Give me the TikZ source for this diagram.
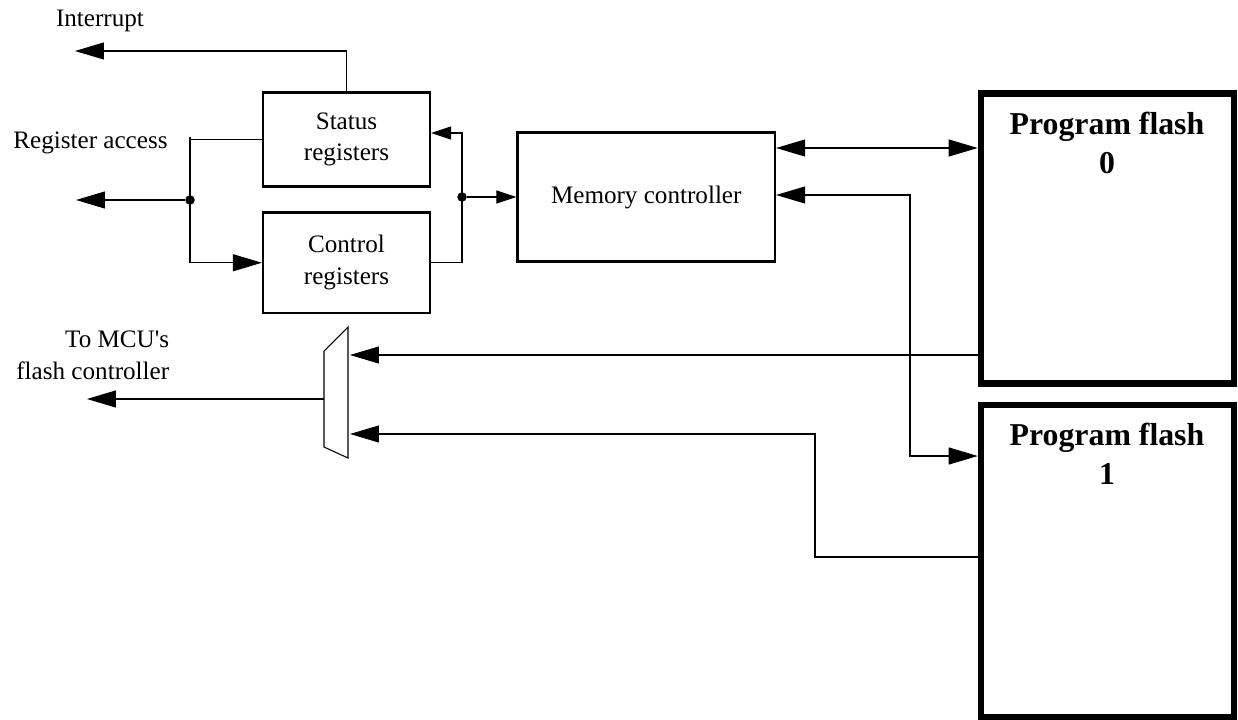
\documentclass[tikz,border=0pt]{standalone}
\usepackage{fontspec}
\setmainfont{Liberation Serif}[Ligatures=TeXOff]
\usetikzlibrary{arrows.meta,positioning}

\begin{document}
\begin{tikzpicture}[x=0.02cm,y=-0.02cm,
    every node/.style={align=center,font=\fontsize{14.3}{18}\selectfont},
    regbox/.style={draw,line width=1.3pt,inner sep=0pt},
    flashbox/.style={draw,line width=3.8pt,minimum width=5.06cm,inner sep=0pt},
    flashlbl/.style={anchor=north,inner sep=0pt,font=\fontsize{18.1}{22}\selectfont\bfseries},
    lbl/.style={inner sep=0pt},
    wire/.style={line width=0.6pt},
    bigarr/.style={wire,-{Triangle[length=5.8mm,width=3.4mm]}},
    smallarr/.style={wire,-{Triangle[length=4mm,width=2.6mm]}},
    dblarr/.style={wire,{Triangle[length=5.8mm,width=3.4mm]}-{Triangle[length=5.8mm,width=3.4mm]}},
    junction/.style={circle,fill,inner sep=0pt,minimum size=1.9mm}]
  \useasboundingbox (0,0) rectangle (1238,720);

  % register blocks
  \node[regbox,minimum width=3.34cm,minimum height=1.88cm] (status) at (346.5,139.5) {Status\\registers};
  \node[regbox,minimum width=3.34cm,minimum height=2.01cm] (ctrl) at (346.5,262.75) {Control\\registers};
  \node[regbox,minimum width=5.15cm,minimum height=2.58cm] (mem) at (646.25,197) {Memory controller};

  % flash banks
  \node[flashbox,minimum height=5.8cm] (pf0) at (1107.5,238.5) {};
  \node[flashbox,minimum height=6.24cm] (pf1) at (1107.5,561) {};
  \node[flashlbl] (pf0lbl) at (1107,112) {Program flash\\0};
  \node[flashlbl] (pf1lbl) at (1107,423) {Program flash\\1};

  % outside labels
  \node[lbl,anchor=base] (intrlbl) at (100,27) {Interrupt};
  \node[lbl,anchor=base] (reglbl) at (90.5,148) {Register access};
  \node[lbl,anchor=east,align=right] (mculbl) at (169.5,355) {To MCU's\\flash controller};

  % mux
  \draw[wire] (324,351) -- (348,327) -- (348,458) -- (324,447) -- cycle;
  \coordinate (muxin0) at (350,355);
  \coordinate (muxin1) at (350,434);
  \coordinate (muxout) at (324,399);

  \coordinate (intrend) at (75,51);
  \coordinate (regend) at (76,200);
  \coordinate (mcuend) at (87,399);
  \node[junction] (regdot) at (190,200) {};
  \node[junction] (busdot) at (462,197) {};

  \draw[bigarr] (status.north) |- (intrend);
  \draw[wire] (status.west) -- (status.west -| regdot);
  \draw[bigarr] (regdot |- 0,137) |- (ctrl.west);
  \draw[bigarr] (regdot) -- (regend);
  \draw[smallarr] (ctrl.east) -| (busdot |- 0,133) -- (status.east |- 0,133);
  \draw[smallarr] (busdot) -- (mem.west);

  \draw[dblarr] (mem.east |- 0,148) -- (pf0.west |- 0,148);
  \draw[dblarr] (mem.east |- 0,195) -| (910,456) -- (pf1.west |- 0,456);

  \draw[bigarr] (pf0.west |- 0,355) -- (muxin0);
  \draw[bigarr] (pf1.west |- 0,557) -| (815,434) -- (muxin1);
  \draw[bigarr] (muxout) -- (mcuend);
\end{tikzpicture}
\end{document}
